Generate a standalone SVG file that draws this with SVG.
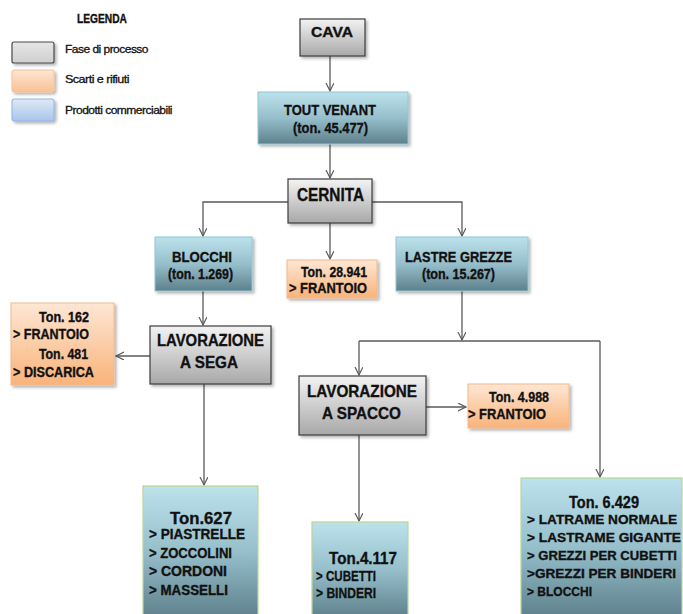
<svg xmlns="http://www.w3.org/2000/svg" width="683" height="614" viewBox="0 0 683 614">
<style>
text{font-family:"Liberation Sans",Arial,sans-serif;font-weight:bold;fill:#111;stroke:#111;stroke-width:0.35px;}
.leg{font-size:11.5px;font-weight:normal;letter-spacing:-0.5px;stroke-width:0.3px}
.t15{font-size:15px}
.t14{font-size:14px}
.t13{font-size:13px}
.t16{font-size:16.5px}
.t18{font-size:18px}
.proc{fill:url(#gGray);stroke:#3c3c3c;stroke-width:1.2}
.prod{fill:url(#gBlue);stroke:#92c6d6;stroke-width:1}
.prod2{fill:url(#gBlue);stroke:#bcd591;stroke-width:1.2}
.scr{fill:url(#gOrange);stroke:#f3b88a;stroke-width:1}
.conn{fill:none;stroke:#5a5a5a;stroke-width:1.3}
</style>
<defs>
<linearGradient id="gGray" x1="0" y1="0" x2="0" y2="1"><stop offset="0" stop-color="#f3f3f3"/><stop offset="1" stop-color="#a8a8a8"/></linearGradient>
<linearGradient id="gBlue" x1="0" y1="0" x2="0" y2="1"><stop offset="0" stop-color="#bce2ec"/><stop offset="0.5" stop-color="#96bfcb"/><stop offset="1" stop-color="#5d808c"/></linearGradient>
<linearGradient id="gOrange" x1="0" y1="0" x2="0" y2="1"><stop offset="0" stop-color="#fee7d4"/><stop offset="1" stop-color="#f9b37a"/></linearGradient>
<linearGradient id="gLGray" x1="0" y1="0" x2="0" y2="1"><stop offset="0" stop-color="#e6e6e6"/><stop offset="1" stop-color="#cfcfcf"/></linearGradient>
<linearGradient id="gLOrange" x1="0" y1="0" x2="0" y2="1"><stop offset="0" stop-color="#fde6d3"/><stop offset="1" stop-color="#f9c195"/></linearGradient>
<linearGradient id="gLBlue" x1="0" y1="0" x2="0" y2="1"><stop offset="0" stop-color="#dfe9f6"/><stop offset="1" stop-color="#a9c5ec"/></linearGradient>
<filter id="sh" x="-10%" y="-10%" width="125%" height="130%"><feDropShadow dx="2" dy="2" stdDeviation="1.5" flood-color="#000" flood-opacity="0.3"/></filter>
<marker id="arr" markerWidth="10" markerHeight="10" refX="8" refY="4" orient="auto" markerUnits="userSpaceOnUse"><path d="M0,0 L8,4 L0,8" fill="none" stroke="#5a5a5a" stroke-width="1.2"/></marker>
</defs>

<g id="legend">
<text class="t13" x="77" y="23" textLength="50" lengthAdjust="spacingAndGlyphs">LEGENDA</text>
<rect x="12" y="42" width="42" height="21" rx="2" fill="url(#gLGray)" stroke="#4a4a4a" stroke-width="1.2" filter="url(#sh)"/>
<rect x="12" y="70" width="42" height="22" rx="2" fill="url(#gLOrange)" stroke="#f5c198" stroke-width="1" filter="url(#sh)"/>
<rect x="12" y="99" width="42" height="22" rx="2" fill="url(#gLBlue)" stroke="#8db3e2" stroke-width="1" filter="url(#sh)"/>
<text class="leg" x="65" y="53" textLength="83" lengthAdjust="spacingAndGlyphs">Fase di processo</text>
<text class="leg" x="65" y="83" textLength="64" lengthAdjust="spacingAndGlyphs">Scarti e rifiuti</text>
<text class="leg" x="65" y="114" textLength="107" lengthAdjust="spacingAndGlyphs">Prodotti commerciabili</text>
</g>

<g id="connectors">
<path class="conn" d="M330,56 V91" marker-end="url(#arr)"/>
<path class="conn" d="M330,144 V178" marker-end="url(#arr)"/>
<path class="conn" d="M288,202 H203 V236" marker-end="url(#arr)"/>
<path class="conn" d="M372,202 H462 V236" marker-end="url(#arr)"/>
<path class="conn" d="M330,223 V259" marker-end="url(#arr)"/>
<path class="conn" d="M203,291 V325" marker-end="url(#arr)"/>
<path class="conn" d="M150,356 H116" marker-end="url(#arr)"/>
<path class="conn" d="M204,384 V485" marker-end="url(#arr)"/>
<path class="conn" d="M462,291 V340" marker-end="url(#arr)"/>
<path class="conn" d="M359,341 H600"/>
<path class="conn" d="M359,341 V375" marker-end="url(#arr)"/>
<path class="conn" d="M600,341 V477" marker-end="url(#arr)"/>
<path class="conn" d="M426,407 H466" marker-end="url(#arr)"/>
<path class="conn" d="M359,435 V521" marker-end="url(#arr)"/>
</g>

<g id="cava">
<rect class="proc" x="300" y="19" width="65" height="37" filter="url(#sh)"/>
<text class="t15" x="311" y="37" textLength="42" lengthAdjust="spacingAndGlyphs">CAVA</text>
</g>

<g id="tout-venant">
<rect class="prod" x="258" y="92" width="150" height="52" filter="url(#sh)"/>
<text class="t15" x="284" y="115" textLength="92" lengthAdjust="spacingAndGlyphs">TOUT VENANT</text>
<text class="t14" x="293" y="133" textLength="75" lengthAdjust="spacingAndGlyphs">(ton. 45.477)</text>
</g>

<g id="cernita">
<rect class="proc" x="288" y="179" width="84" height="44" filter="url(#sh)"/>
<text class="t18" x="297" y="201" textLength="67" lengthAdjust="spacingAndGlyphs">CERNITA</text>
</g>

<g id="blocchi">
<rect class="prod" x="155" y="237" width="97" height="54" filter="url(#sh)"/>
<text class="t15" x="172" y="262" textLength="60" lengthAdjust="spacingAndGlyphs">BLOCCHI</text>
<text class="t14" x="168" y="279" textLength="65" lengthAdjust="spacingAndGlyphs">(ton. 1.269)</text>
</g>

<g id="scarto-cernita">
<rect class="scr" x="287" y="260" width="90" height="38" filter="url(#sh)"/>
<text class="t14" x="301" y="277" textLength="66" lengthAdjust="spacingAndGlyphs">Ton. 28.941</text>
<text class="t14" x="289" y="293" textLength="78" lengthAdjust="spacingAndGlyphs">&gt; FRANTOIO</text>
</g>

<g id="lastre-grezze">
<rect class="prod" x="396" y="237" width="132" height="54" filter="url(#sh)"/>
<text class="t15" x="405" y="262" textLength="107" lengthAdjust="spacingAndGlyphs">LASTRE GREZZE</text>
<text class="t14" x="422" y="279" textLength="73" lengthAdjust="spacingAndGlyphs">(ton. 15.267)</text>
</g>

<g id="scarto-sega">
<rect class="scr" x="11" y="303" width="103" height="82" filter="url(#sh)"/>
<text class="t14" x="39" y="322" textLength="50" lengthAdjust="spacingAndGlyphs">Ton. 162</text>
<text class="t14" x="13" y="339" textLength="76" lengthAdjust="spacingAndGlyphs">&gt; FRANTOIO</text>
<text class="t14" x="39" y="359" textLength="49" lengthAdjust="spacingAndGlyphs">Ton. 481</text>
<text class="t14" x="13" y="377" textLength="81" lengthAdjust="spacingAndGlyphs">&gt; DISCARICA</text>
</g>

<g id="lavorazione-sega">
<rect class="proc" x="150" y="326" width="121" height="58" filter="url(#sh)"/>
<text class="t16" x="157" y="346" textLength="107" lengthAdjust="spacingAndGlyphs">LAVORAZIONE</text>
<text class="t16" x="180" y="368" textLength="58" lengthAdjust="spacingAndGlyphs">A SEGA</text>
</g>

<g id="lavorazione-spacco">
<rect class="proc" x="299" y="376" width="127" height="59" filter="url(#sh)"/>
<text class="t16" x="307" y="397" textLength="110" lengthAdjust="spacingAndGlyphs">LAVORAZIONE</text>
<text class="t16" x="322" y="419" textLength="79" lengthAdjust="spacingAndGlyphs">A SPACCO</text>
</g>

<g id="scarto-spacco">
<rect class="scr" x="468" y="384" width="101" height="44" filter="url(#sh)"/>
<text class="t14" x="489" y="402" textLength="60" lengthAdjust="spacingAndGlyphs">Ton. 4.988</text>
<text class="t14" x="468" y="419" textLength="78" lengthAdjust="spacingAndGlyphs">&gt; FRANTOIO</text>
</g>

<g id="prodotti-sega">
<rect class="prod2" x="143" y="486" width="115" height="132"/>
<text class="t16" x="170" y="524" textLength="62" lengthAdjust="spacingAndGlyphs">Ton.627</text>
<text class="t14" x="149" y="539" textLength="96" lengthAdjust="spacingAndGlyphs">&gt; PIASTRELLE</text>
<text class="t14" x="149" y="558" textLength="83" lengthAdjust="spacingAndGlyphs">&gt; ZOCCOLINI</text>
<text class="t14" x="149" y="576" textLength="78" lengthAdjust="spacingAndGlyphs">&gt; CORDONI</text>
<text class="t14" x="149" y="595" textLength="79" lengthAdjust="spacingAndGlyphs">&gt; MASSELLI</text>
</g>

<g id="prodotti-spacco">
<rect class="prod2" x="312" y="522" width="96" height="96"/>
<text class="t16" x="329" y="564" textLength="68" lengthAdjust="spacingAndGlyphs">Ton.4.117</text>
<text class="t15" x="316" y="581" textLength="60" lengthAdjust="spacingAndGlyphs">&gt; CUBETTI</text>
<text class="t15" x="316" y="598" textLength="60" lengthAdjust="spacingAndGlyphs">&gt; BINDERI</text>
</g>

<g id="prodotti-lastre">
<rect class="prod2" x="521" y="478" width="161" height="140"/>
<text class="t16" x="569" y="508" textLength="70" lengthAdjust="spacingAndGlyphs">Ton. 6.429</text>
<text class="t13" x="527" y="524" textLength="150" lengthAdjust="spacingAndGlyphs">&gt; LATRAME NORMALE</text>
<text class="t13" x="527" y="542" textLength="154" lengthAdjust="spacingAndGlyphs">&gt; LASTRAME GIGANTE</text>
<text class="t13" x="527" y="560" textLength="150" lengthAdjust="spacingAndGlyphs">&gt; GREZZI PER CUBETTI</text>
<text class="t13" x="527" y="578" textLength="149" lengthAdjust="spacingAndGlyphs">&gt;GREZZI PER BINDERI</text>
<text class="t13" x="527" y="596" textLength="65" lengthAdjust="spacingAndGlyphs">&gt; BLOCCHI</text>
</g>
</svg>
